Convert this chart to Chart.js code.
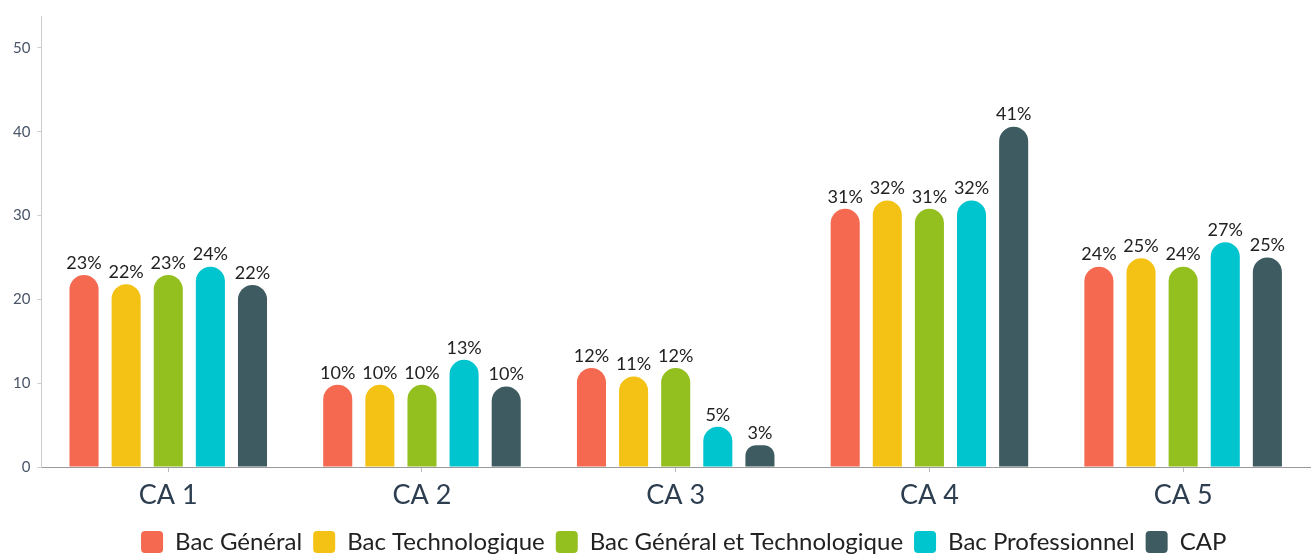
<!DOCTYPE html>
<html>
<head>
<meta charset="utf-8">
<script src="https://cdn.jsdelivr.net/npm/chart.js@4/dist/chart.umd.min.js"></script>
<style>
    html, body { margin: 0; padding: 0; background: #fff; }
    #wrap { width: 1312px; height: 557px; }
</style>
</head>
<body>
<div id="wrap"><canvas id="chartCA"></canvas></div>
<script>
const categories = ["CA 1", "CA 2", "CA 3", "CA 4", "CA 5"];

const bacGeneral = [22.9, 9.8, 11.8, 30.8, 23.9];
const bacTechno = [21.8, 9.8, 10.8, 31.8, 24.9];
const bacGenTechno = [22.9, 9.8, 11.8, 30.8, 23.9];
const bacPro = [23.9, 12.8, 4.8, 31.8, 26.8];
const cap = [21.7, 9.6, 2.6, 40.6, 25.0];

const seriesNames = ["Bac Général", "Bac Technologique", "Bac Général et Technologique", "Bac Professionnel", "CAP"];
const seriesColors = ["#f4694f", "#f4c215", "#93c01f", "#00c4ce", "#3d5b60"];

const yTicks = [0, 10, 20, 30, 40, 50];

Chart.defaults.font.family = "Lato, 'Open Sans', sans-serif";

// labels "23%" above every bar
const barLabels = {
    id: "barLabels",
    afterDatasetsDraw(chart) {
        let ctx = chart.ctx;
        ctx.save();
        ctx.font = "18px Lato";
        ctx.fillStyle = "#222";
        ctx.textAlign = "center";
        ctx.textBaseline = "bottom";
        chart.data.datasets.forEach(function (ds, i) {
            let meta = chart.getDatasetMeta(i);
            meta.data.forEach(function (bar, j) {
                ctx.fillText(Math.round(ds.data[j]) + "%", bar.x, bar.y - 3);
            });
        });
        ctx.restore();
    }
};

// legend sits a bit right of centre in the original
const legendShift = {
    id: "legendShift",
    afterLayout(chart) {
        chart.legend.left += 8;
        chart.legend.right += 8;
    }
};

let datasets = [bacGeneral, bacTechno, bacGenTechno, bacPro, cap].map(function (values, i) {
    return {
        label: seriesNames[i],
        data: values,
        backgroundColor: seriesColors[i],
        borderRadius: { topLeft: 100, topRight: 100 },
        borderSkipped: "bottom",
        categoryPercentage: 0.83,
        barPercentage: 0.69
    };
});

new Chart("chartCA", {
    type: "bar",
    data: {
        labels: categories,
        datasets: datasets
    },
    plugins: [barLabels, legendShift],
    options: {
        responsive: true,
        maintainAspectRatio: false,
        animation: false,
        layout: {
            padding: { top: 12, left: 6, right: 2, bottom: -7 }
        },
        scales: {
            x: {
                grid: {
                    offset: false,
                    drawOnChartArea: false,
                    tickLength: 5,
                    color: "#bbb"
                },
                border: { color: "#999" },
                ticks: {
                    color: "#2d3e50",
                    font: { size: 27, lineHeight: 1.0 },
                    padding: 10
                }
            },
            y: {
                min: 0,
                max: 53.8,
                afterBuildTicks: function (scale) {
                    scale.ticks = yTicks.map(v => ({ value: v }));
                },
                grid: {
                    drawOnChartArea: false,
                    tickLength: 4,
                    color: "#ccc"
                },
                border: { color: "#ccc" },
                ticks: {
                    color: "#4a5568",
                    font: { size: 15 },
                    padding: 7
                }
            }
        },
        plugins: {
            tooltip: { enabled: false },
            legend: {
                display: true,
                position: "bottom",
                fullSize: false,
                labels: {
                    boxWidth: 22,
                    boxHeight: 22,
                    useBorderRadius: true,
                    borderRadius: 4,
                    color: "#222",
                    font: { size: 24 },
                    padding: 11
                }
            }
        }
    }
});
</script>
</body>
</html>
